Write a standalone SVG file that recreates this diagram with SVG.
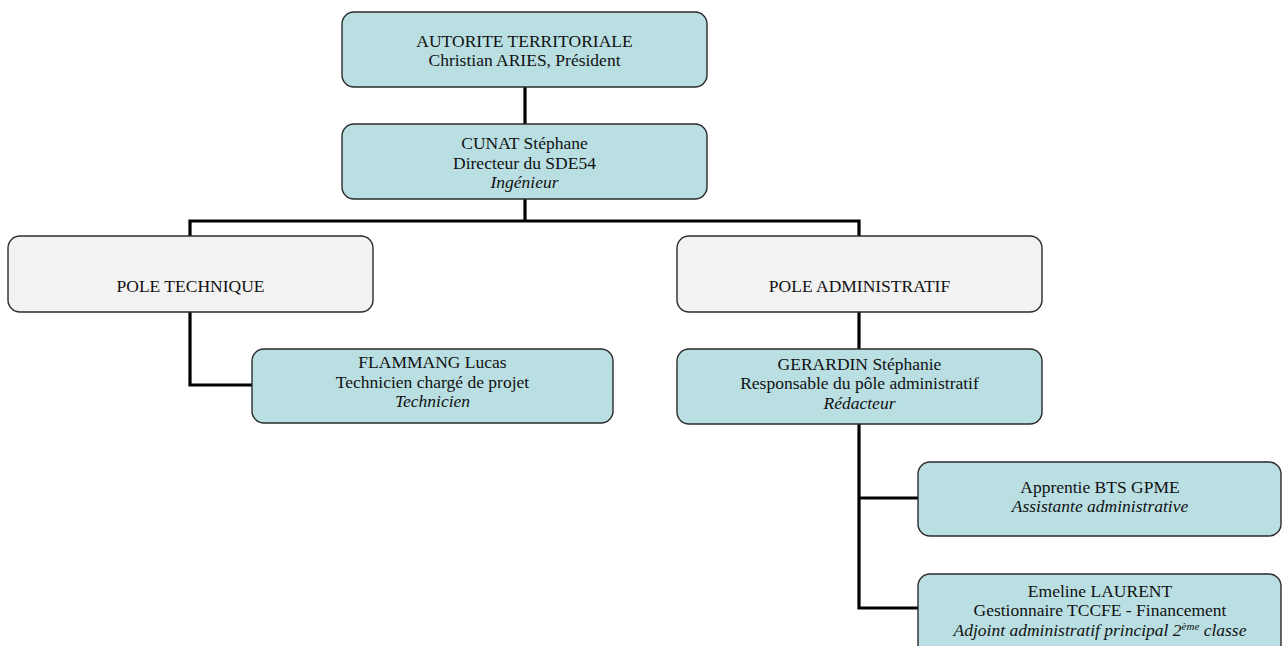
<svg xmlns="http://www.w3.org/2000/svg" width="1282" height="646" viewBox="0 0 1282 646">
<style>
.box{stroke:#2b2b2b;stroke-width:1.4}
.teal{fill:#b9dfe3}
.gray{fill:#f2f2f2}
text{font-family:'Liberation Serif','Times New Roman',Times,serif;font-size:17.5px;fill:#111;text-anchor:middle}
.it{font-style:italic}
.conn{fill:none;stroke:#000;stroke-width:3.2}
</style>
<rect width="1282" height="646" fill="#fff"/>
<g id="connectors">
<path class="conn" d="M525,87 V124"/>
<path class="conn" d="M525,199 V221"/>
<path class="conn" d="M190,236 V221 H859 V236"/>
<path class="conn" d="M190,312 V385 H252"/>
<path class="conn" d="M859,312 V349"/>
<path class="conn" d="M859,424 V608 H918"/>
<path class="conn" d="M859,498 H918"/>
</g>
<g font-family="Liberation Serif, serif">
<g id="autorite">
<rect class="box teal" x="342" y="12" width="365" height="75" rx="12"/>
<text x="524.5" y="46.5">AUTORITE TERRITORIALE</text>
<text x="524.5" y="66">Christian ARIES, Président</text>
</g>
<g id="cunat">
<rect class="box teal" x="342" y="124" width="365" height="75" rx="12"/>
<text x="524.5" y="149">CUNAT Stéphane</text>
<text x="524.5" y="168.5">Directeur du SDE54</text>
<text class="it" x="524.5" y="188">Ingénieur</text>
</g>
<g id="pole-technique">
<rect class="box gray" x="8" y="236" width="365" height="76" rx="12"/>
<text x="190.5" y="292">POLE TECHNIQUE</text>
</g>
<g id="pole-administratif">
<rect class="box gray" x="677" y="236" width="365" height="76" rx="12"/>
<text x="859.5" y="292">POLE ADMINISTRATIF</text>
</g>
<g id="flammang">
<rect class="box teal" x="252" y="349" width="361" height="74" rx="12"/>
<text x="432.5" y="368">FLAMMANG Lucas</text>
<text x="432.5" y="387.5">Technicien chargé de projet</text>
<text class="it" x="432.5" y="407">Technicien</text>
</g>
<g id="gerardin">
<rect class="box teal" x="677" y="349" width="365" height="75" rx="12"/>
<text x="859.5" y="369.5">GERARDIN Stéphanie</text>
<text x="859.5" y="389">Responsable du pôle administratif</text>
<text class="it" x="859.5" y="408.5">Rédacteur</text>
</g>
<g id="apprentie">
<rect class="box teal" x="918" y="462" width="363" height="74" rx="12"/>
<text x="1100" y="492.5">Apprentie BTS GPME</text>
<text class="it" x="1100" y="512">Assistante administrative</text>
</g>
<g id="emeline">
<rect class="box teal" x="918" y="574" width="363" height="90" rx="12"/>
<text x="1100" y="596.5">Emeline LAURENT</text>
<text x="1100" y="616">Gestionnaire TCCFE - Financement</text>
<text class="it" x="1100" y="635.5">Adjoint administratif principal 2<tspan font-size="11" dy="-6">ème</tspan><tspan dy="6"> classe</tspan></text>
</g>
</g>
</svg>
